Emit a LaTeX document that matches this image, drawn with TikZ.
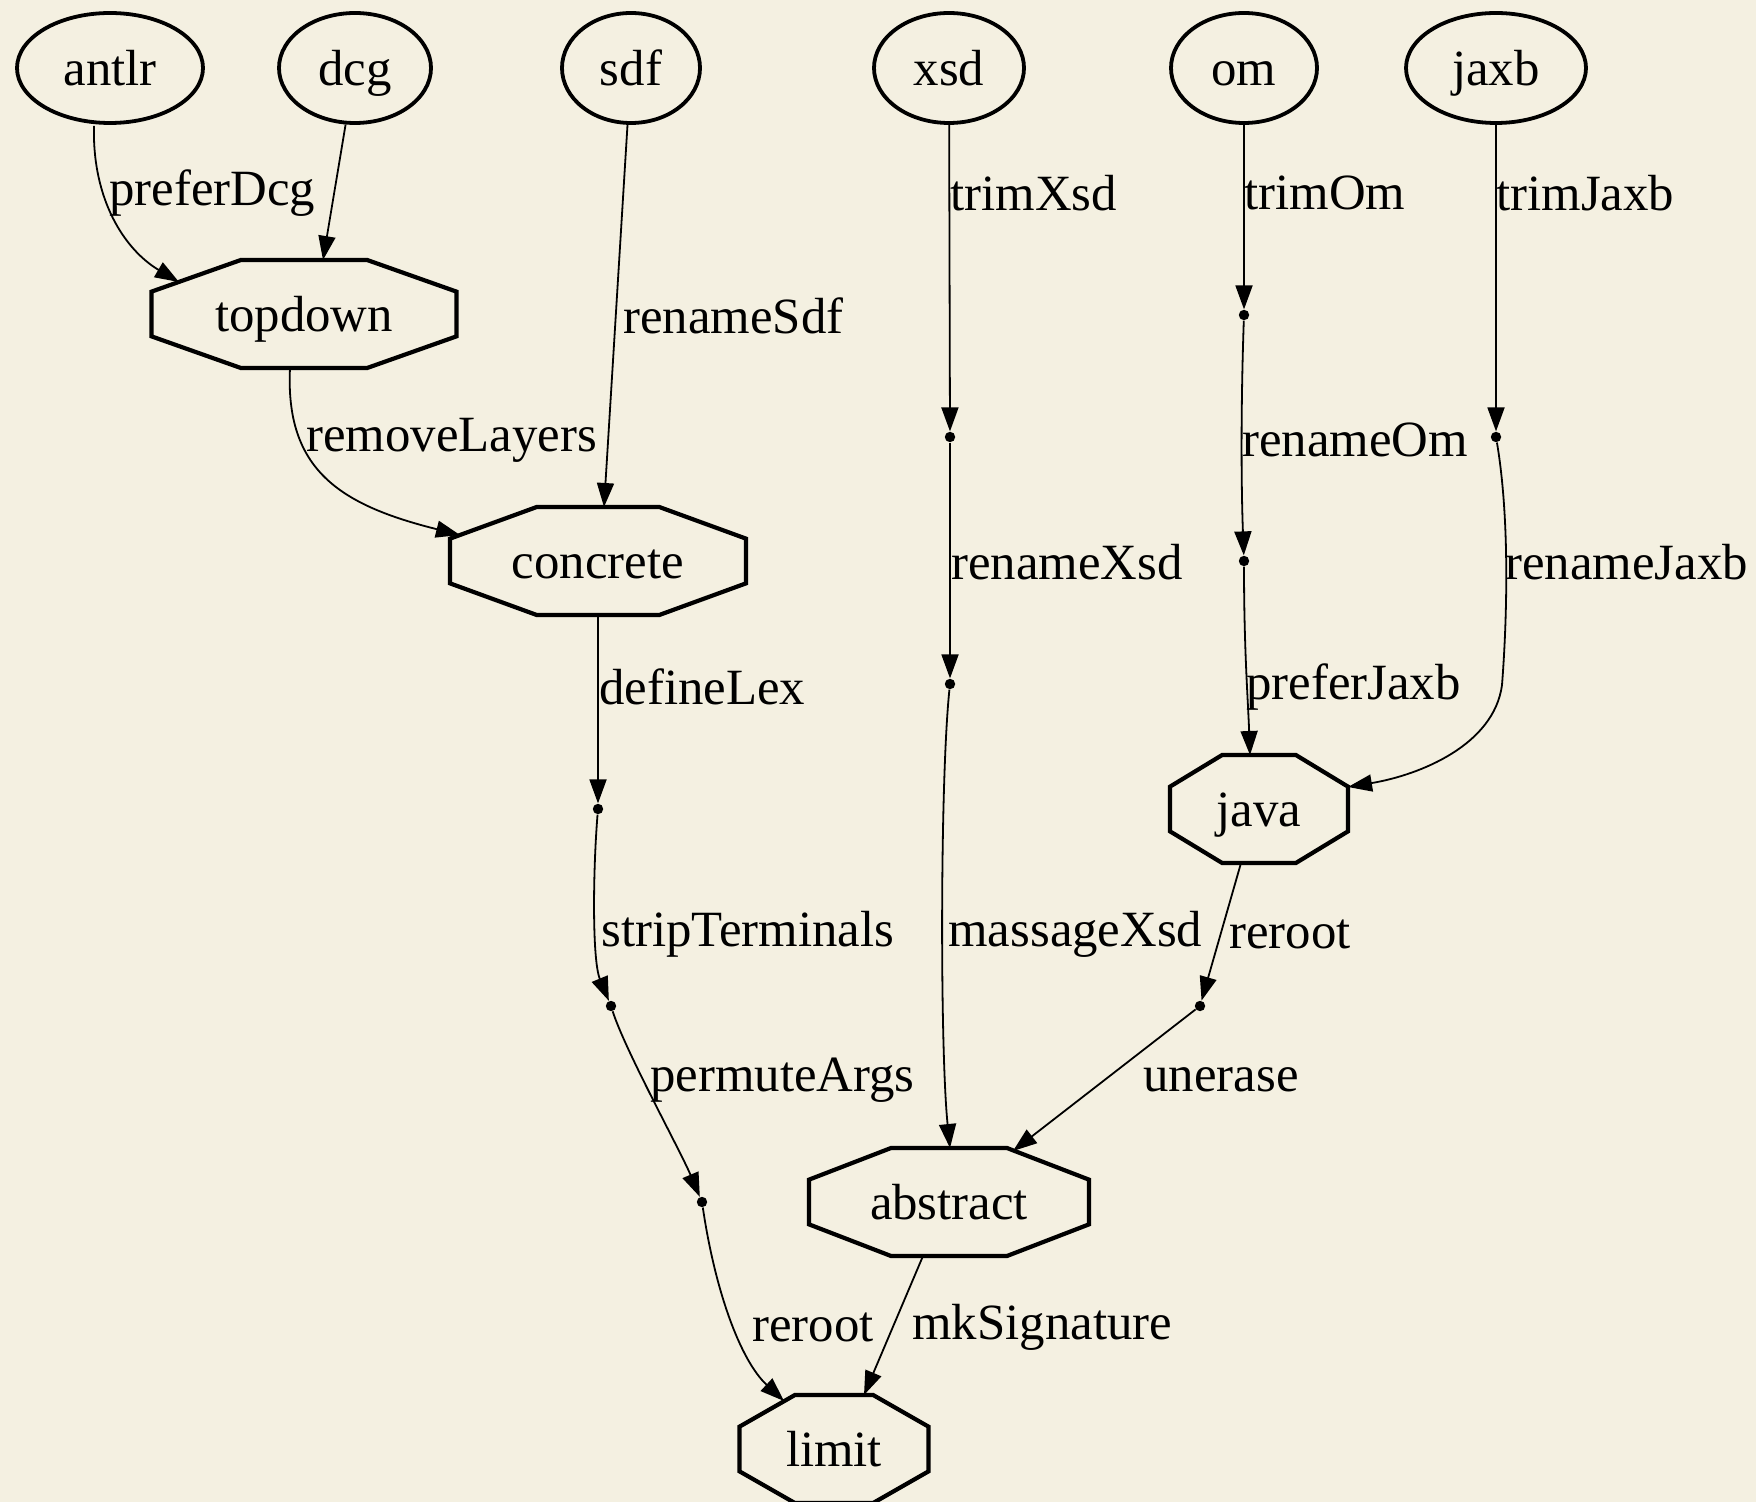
\documentclass[tikz,border=0pt]{standalone}
\usepackage{fontspec}
\setmainfont{Liberation Serif}
\usetikzlibrary{calc,arrows.meta,shapes.geometric}
\definecolor{paper}{RGB}{244,240,225}
\newcommand\octdraw[1]{\draw[octline]
 ($(#1.north west)!0.293!(#1.north east)$) -- ($(#1.north west)!0.707!(#1.north east)$) --
 ($(#1.north east)!0.293!(#1.south east)$) -- ($(#1.north east)!0.707!(#1.south east)$) --
 ($(#1.south east)!0.293!(#1.south west)$) -- ($(#1.south east)!0.707!(#1.south west)$) --
 ($(#1.south west)!0.293!(#1.north west)$) -- ($(#1.south west)!0.707!(#1.north west)$) -- cycle;}
\begin{document}
\begin{tikzpicture}[x=0.5pt,y=-0.5pt,
  font=\fontsize{25.4}{30}\selectfont,
  src/.style={ellipse, draw, line width=1.9pt, minimum height=55pt, inner sep=0pt,
              text height=21.6pt, text depth=3.8pt},
  oct/.style={rectangle, inner sep=0pt, outer sep=0pt, minimum height=54pt,
              text height=21pt, text depth=3.8pt},
  octline/.style={line width=2.1pt, line join=miter},
  dotpt/.style={circle, fill, inner sep=0pt, minimum size=5.2pt},
  lbl/.style={anchor=west, inner sep=0pt},
  edge/.style={line width=0.9pt, -{Triangle[length=12pt,width=8.5pt]}},
]
\fill[paper] (0,0) rectangle (1756,1502);
\useasboundingbox (0,0) rectangle (1756,1502);

% source ellipses
\node[src, minimum width=93pt] (antlr) at (110,68) {antlr};
\node[src, minimum width=76pt] (dcg) at (355,68) {dcg};
\node[src, minimum width=69pt] (sdf) at (631,68) {sdf};
\node[src, minimum width=75pt] (xsd) at (949,68) {xsd};
\node[src, minimum width=73pt] (om) at (1244,68) {om};
\node[src, minimum width=90pt] (jaxb) at (1496,68) {jaxb};

% octagons
\node[oct, minimum width=152.5pt] (topdown) at (304,314) {topdown};
\node[oct, minimum width=148pt] (concrete) at (598,561) {concrete};
\node[oct, minimum width=89pt] (java) at (1259,809) {java};
\node[oct, minimum width=140pt] (abstract) at (949,1202) {abstract};
\node[oct, minimum width=94.5pt] (limit) at (834,1449) {limit};
\octdraw{topdown}
\octdraw{concrete}
\octdraw{java}
\octdraw{abstract}
\octdraw{limit}

% intermediate points
\node[dotpt] (d1) at (598,809) {};
\node[dotpt] (d2) at (611,1006) {};
\node[dotpt] (d3) at (702,1202) {};
\node[dotpt] (x1) at (950,437) {};
\node[dotpt] (x2) at (950,684) {};
\node[dotpt] (o1) at (1244,315) {};
\node[dotpt] (o2) at (1244,561) {};
\node[dotpt] (j1) at (1496,437) {};
\node[dotpt] (j2) at (1200,1006) {};

% edges
\draw[edge] ($(antlr.south)+(-16,1)$) .. controls (92,200) and (125,250) .. ($(topdown.center)+(-125,-32)$);
\draw[edge] (dcg) -- ($(topdown.center)+(19,-54)$);
\draw[edge] (sdf) -- ($(concrete.center)+(6,-54)$);
\draw[edge] ($(topdown.center)+(-14,54)$) .. controls (285,470) and (340,505) .. ($(concrete.center)+(-138,-26)$);
\draw[edge] ($(concrete.center)+(0,54)$) -- (d1);
\draw[edge] (d1) .. controls (593,870) and (592,960) .. (d2);
\draw[edge] (d2) .. controls (625,1050) and (680,1150) .. (d3);
\draw[edge] (d3) .. controls (715,1290) and (740,1360) .. ($(limit.center)+(-50,-48)$);
\draw[edge] ($(abstract.center)+(-26,54)$) -- ($(limit.center)+(30,-54)$);
\draw[edge] (xsd) -- (x1);
\draw[edge] (x1) -- (x2);
\draw[edge] (x2) .. controls (940,780) and (940,1050) .. ($(abstract.center)+(1,-54)$);
\draw[edge] (om) -- (o1);
\draw[edge] (o1) .. controls (1241,400) and (1241,480) .. (o2);
\draw[edge] (o2) .. controls (1244,650) and (1248,700) .. ($(java.center)+(-9,-54)$);
\draw[edge] (jaxb) -- (j1);
\draw[edge] (j1) .. controls (1510,520) and (1507,620) .. (1502,685) .. controls (1494,745) and (1420,775) .. ($(java.center)+(89,-22)$);
\draw[edge] ($(java.center)+(-18,54)$) -- (j2);
\draw[edge] (j2) -- ($(abstract.center)+(64,-51)$);

% labels
\node[lbl] (l1) at (109,193) {preferDcg};
\node[lbl] (l2) at (950,193) {trimXsd};
\node[lbl] (l3) at (1244,193) {trimOm};
\node[lbl] (l4) at (1496,193) {trimJaxb};
\node[lbl] (l5) at (623,316) {renameSdf};
\node[lbl] (l6) at (306,440) {removeLayers};
\node[lbl] (l7) at (1242,440) {renameOm};
\node[lbl] (l8) at (951,562) {renameXsd};
\node[lbl] (l9) at (1505,562) {renameJaxb};
\node[lbl] (l10) at (599,687) {defineLex};
\node[lbl] (l11) at (1246,687) {preferJaxb};
\node[lbl] (l12) at (601,934) {stripTerminals};
\node[lbl] (l13) at (948,934) {massageXsd};
\node[lbl] (l14) at (1229,934) {reroot};
\node[lbl] (l15) at (650,1080) {permuteArgs};
\node[lbl] (l16) at (1143,1080) {unerase};
\node[lbl] (l17) at (752,1327) {reroot};
\node[lbl] (l18) at (912,1327) {mkSignature};
\end{tikzpicture}
\end{document}
